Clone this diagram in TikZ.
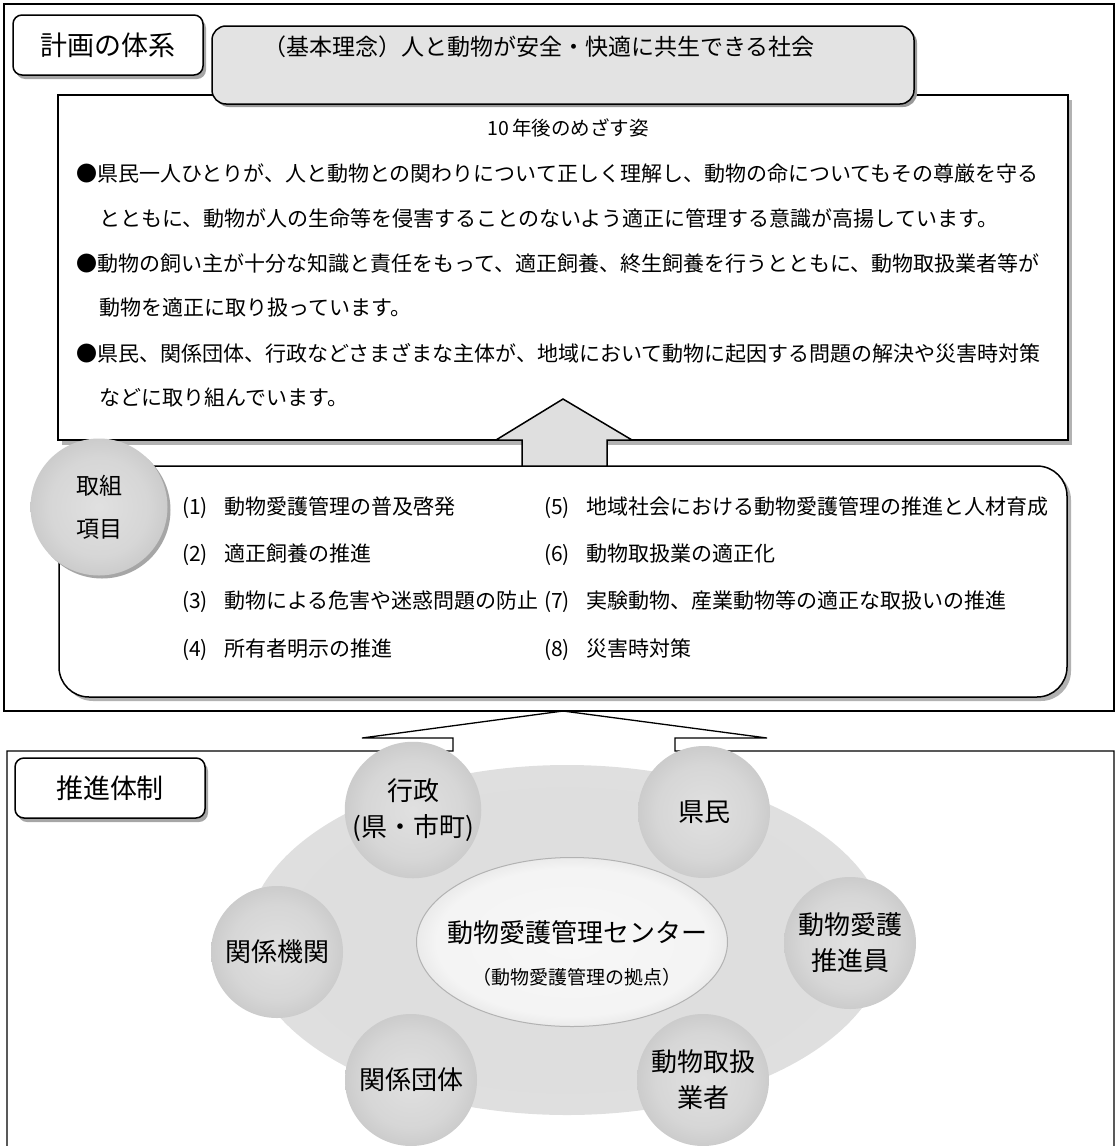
\documentclass[tikz,border=0pt]{standalone}
\usepackage{fontspec}
\setmainfont{Noto Sans CJK JP}
\usepackage{tikz}
\usetikzlibrary{shapes, shadows, positioning, calc}

\pgfdeclareradialshading{ballgray}{\pgfpoint{0bp}{0bp}}{color(0bp)=(gray!24); color(18bp)=(gray!32); color(35bp)=(gray!52); color(50bp)=(gray!52)}
\pgfdeclareradialshading{centerglow}{\pgfpoint{0bp}{0bp}}{color(0bp)=(gray!6); color(22bp)=(gray!9); color(35bp)=(gray!40); color(50bp)=(gray!40)}
\pgfdeclareradialshading{halo}{\pgfpoint{0bp}{0bp}}{color(0bp)=(gray!27); color(29bp)=(gray!25); color(35bp)=(gray!10); color(50bp)=(white)}

\newcommand{\numtag}[1]{\makebox[42pt][l]{(#1)}}

\tikzset{
    frameline/.style={
        draw=black,
        line width=1.3pt,
    },
    labelbox/.style={
        rectangle,
        rounded corners=9pt,
        draw=black,
        line width=1.5pt,
        fill=white,
        minimum width=190pt,
        minimum height=60pt,
        drop shadow={shadow xshift=3pt, shadow yshift=-4pt, fill=gray!70, opacity=1},
        font=\fontsize{27}{32}\selectfont,
    },
    ideabox/.style={
        rectangle,
        rounded corners=14pt,
        draw=black,
        line width=1.5pt,
        fill=gray!22,
        minimum width=702pt,
        minimum height=78pt,
        drop shadow={shadow xshift=3pt, shadow yshift=-3pt, fill=gray!80, opacity=1},
    },
    goalbox/.style={
        rectangle,
        draw=black,
        line width=1.3pt,
        fill=white,
        minimum width=1010pt,
        minimum height=345pt,
        drop shadow={shadow xshift=4pt, shadow yshift=-5pt, fill=gray!60, opacity=1},
    },
    itembox/.style={
        rectangle,
        rounded corners=30pt,
        draw=black,
        line width=1.5pt,
        fill=white,
        minimum width=1008pt,
        minimum height=231pt,
        drop shadow={shadow xshift=4pt, shadow yshift=-4pt, fill=gray!60, opacity=1},
    },
    tagball/.style={
        circle,
        shading=ballgray,
        minimum size=137pt,
        align=center,
        font=\fontsize{23}{43}\selectfont,
        drop shadow={shadow xshift=3pt, shadow yshift=-3pt, fill=gray!70, opacity=1},
    },
    actor/.style={
        circle,
        shading=ballgray,
        minimum size=132pt,
        inner sep=0pt,
        align=center,
        font=\fontsize{26}{36}\selectfont,
    },
    bodytext/.style={
        anchor=west,
        inner sep=0pt,
        font=\fontsize{21}{25}\selectfont,
    },
}

\begin{document}
\begin{tikzpicture}[x=1pt, y=-1pt]
    \useasboundingbox (0,0) rectangle (1115,1146);

    % frames
    \draw[frameline] (4,4) rectangle (1114,711);
    \draw[frameline] (7,1150) -- (7,751) -- (453,751) -- (453,738) -- (362,738) -- (563,711)
        -- (767,738) -- (675,738) -- (675,751) -- (1114,751) -- (1114,1150);

    % plan
    \node[goalbox] (goal) at (563,267.5) {};
    \node[ideabox] (ideabg) at (563,65) {};
    \node[font=\fontsize{23}{28}\selectfont] (idea) at (539,47) {（基本理念）人と動物が安全・快適に共生できる社会};
    \node[labelbox] (plan) at (108,45) {計画の体系};

    \node[font=\fontsize{19.5}{24}\selectfont] (goaltitle) at (568,128) {10\,年後のめざす姿};
    \node[bodytext] (goal1) at (76,174) {●県民一人ひとりが、人と動物との関わりについて正しく理解し、動物の命についてもその尊厳を守る};
    \node[bodytext] (goal2) at (99,219) {とともに、動物が人の生命等を侵害することのないよう適正に管理する意識が高揚しています。};
    \node[bodytext] (goal3) at (76,264) {●動物の飼い主が十分な知識と責任をもって、適正飼養、終生飼養を行うとともに、動物取扱業者等が};
    \node[bodytext] (goal4) at (99,308) {動物を適正に取り扱っています。};
    \node[bodytext] (goal5) at (76,353) {●県民、関係団体、行政などさまざまな主体が、地域において動物に起因する問題の解決や災害時対策};
    \node[bodytext] (goal6) at (99,398) {などに取り組んでいます。};

    \node[itembox] (items) at (563,581.5) {};
    \draw[line width=1.5pt, fill=gray!25] (522,466) -- (522,440) -- (496,440) -- (563,399)
        -- (632,440) -- (607,440) -- (607,466) -- cycle;
    \node[tagball] (tag) at (99,507) {取組\\項目};

    \node[bodytext] (item1) at (182,508) {\numtag{1}動物愛護管理の普及啓発};
    \node[bodytext] (item2) at (182,555) {\numtag{2}適正飼養の推進};
    \node[bodytext] (item3) at (182,602) {\numtag{3}動物による危害や迷惑問題の防止};
    \node[bodytext] (item4) at (182,650) {\numtag{4}所有者明示の推進};
    \node[bodytext] (item5) at (544,508) {\numtag{5}地域社会における動物愛護管理の推進と人材育成};
    \node[bodytext] (item6) at (544,555) {\numtag{6}動物取扱業の適正化};
    \node[bodytext] (item7) at (544,602) {\numtag{7}実験動物、産業動物等の適正な取扱いの推進};
    \node[bodytext] (item8) at (544,650) {\numtag{8}災害時対策};

    % promotion
    \node[labelbox] (promo) at (110,788) {推進体制};
    \node[ellipse, shading=halo, minimum width=640pt, minimum height=350pt] (field) at (567,940) {};
    \node[ellipse, shading=centerglow, draw=gray!60, line width=1pt, minimum width=311pt, minimum height=169pt] (hub) at (572,942) {};
    \node[font=\fontsize{26}{30}\selectfont] (hubname) at (577,933) {動物愛護管理センター};
    \node[font=\fontsize{19}{24}\selectfont] (hubrole) at (577,977) {（動物愛護管理の拠点）};

    \node[actor] (admin) at (413,810) {行政\\(県・市町)};
    \node[actor] (citizen) at (704,812) {県民};
    \node[actor] (agency) at (277,952) {関係機関};
    \node[actor] (promoter) at (850,943) {動物愛護\\推進員};
    \node[actor] (group) at (411,1080) {関係団体};
    \node[actor] (dealer) at (703,1080) {動物取扱\\業者};
\end{tikzpicture}
\end{document}
